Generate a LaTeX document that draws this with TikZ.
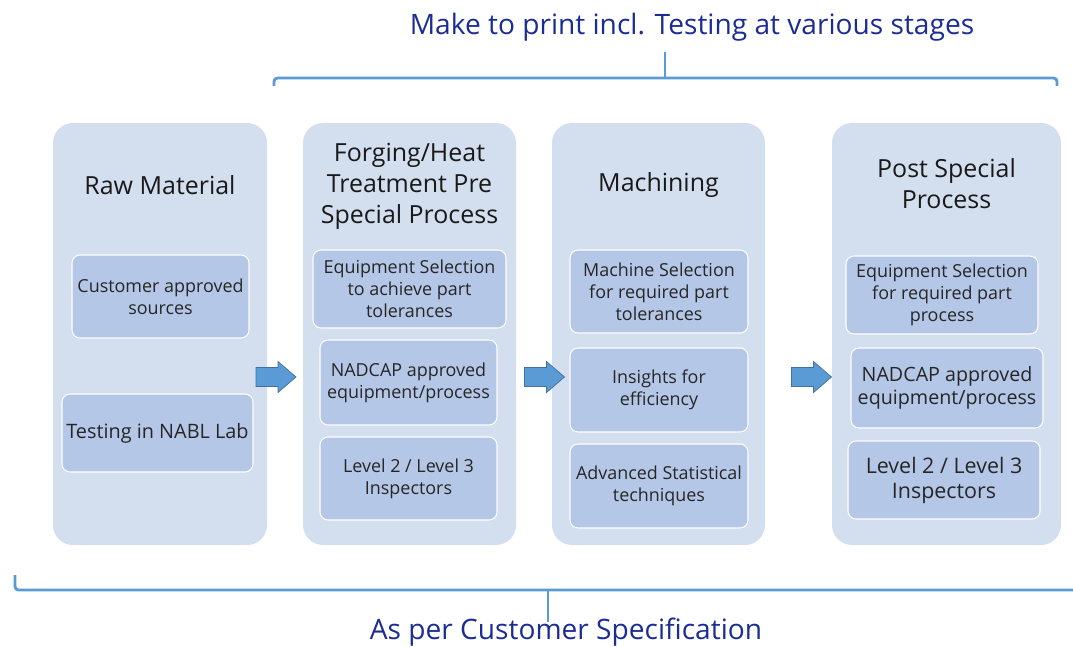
\documentclass[tikz,border=0pt]{standalone}
\usepackage{fontspec}
\setmainfont{Open Sans}
\usepackage{tikz}
\usetikzlibrary{arrows.meta,positioning,calc}
\definecolor{stageFill}{HTML}{D3DEEF}
\definecolor{itemFill}{HTML}{B4C7E7}
\definecolor{accentBlue}{HTML}{5B9BD5}
\definecolor{accentEdge}{HTML}{41719C}
\definecolor{noteNavy}{HTML}{1B2C94}

\begin{document}
\begin{tikzpicture}[
    every node/.style={font=\fontsize{10.2}{12.4}\selectfont,text=black!85},
    stage/.style={rectangle,rounded corners=0.4cm,fill=stageFill,inner sep=0pt},
    stagetitle/.style={align=center,font=\fontsize{14.2}{17.6}\selectfont,text=black!90},
    item/.style={rectangle,rounded corners=0.16cm,draw=white,line width=0.6pt,fill=itemFill,align=center,inner sep=2pt},
    brace/.style={accentBlue,line width=1.6pt,rounded corners=2pt},
    note/.style={font=\fontsize{16}{18}\selectfont,text=noteNavy},
    blockarr/.pic={\draw[fill=accentBlue,draw=accentEdge,line width=0.4pt]
        (-0.40,0.19) -- (0.04,0.19) -- (0.04,0.31) -- (0.40,0) -- (0.04,-0.31) -- (0.04,-0.19) -- (-0.40,-0.19) -- cycle;}
  ]
  \useasboundingbox (0,0) rectangle (21.46,-12.94);
  %% Stages
  \node[stage,minimum width=4.28cm,minimum height=8.44cm] (raw)  at ( 3.20,-6.68) {};
  \node[stage,minimum width=4.26cm,minimum height=8.44cm] (forg) at ( 8.19,-6.68) {};
  \node[stage,minimum width=4.26cm,minimum height=8.44cm] (mach) at (13.17,-6.68) {};
  \node[stage,minimum width=4.58cm,minimum height=8.44cm] (post) at (18.93,-6.68) {};
  %% Stage titles
  \node[stagetitle] (rawT)  at ( 3.20,-3.70) {Raw Material};
  \node[stagetitle] (forgT) at ( 8.19,-3.72) {Forging/Heat\\Treatment Pre\\Special Process};
  \node[stagetitle] (machT) at (13.17,-3.70) {Machining};
  \node[stagetitle] (postT) at (18.93,-3.68) {Post Special\\Process};
  %% Raw material items
  \node[item,minimum width=3.54cm,minimum height=1.66cm] (raw1) at (3.21,-5.93) {Customer approved\\sources};
  \node[item,minimum width=3.82cm,minimum height=1.56cm,font=\fontsize{11.3}{13.5}\selectfont] (raw2) at (3.15,-8.66) {Testing in NABL Lab};
  %% Forging items
  \node[item,minimum width=3.86cm,minimum height=1.56cm] (forg1) at (8.19,-5.78) {Equipment Selection\\to achieve part\\tolerances};
  \node[item,minimum width=3.54cm,minimum height=1.70cm] (forg2) at (8.17,-7.65) {NADCAP approved\\equipment/process};
  \node[item,minimum width=3.54cm,minimum height=1.66cm] (forg3) at (8.17,-9.57) {Level 2 / Level 3\\Inspectors};
  %% Machining items
  \node[item,minimum width=3.56cm,minimum height=1.66cm] (mach1) at (13.18,-5.83) {Machine Selection\\for required part\\tolerances};
  \node[item,minimum width=3.56cm,minimum height=1.68cm] (mach2) at (13.18,-7.80) {Insights for\\efficiency};
  \node[item,minimum width=3.56cm,minimum height=1.68cm] (mach3) at (13.18,-9.72) {Advanced Statistical\\techniques};
  %% Post special process items
  \node[item,minimum width=3.84cm,minimum height=1.56cm] (post1) at (18.84,-5.90) {Equipment Selection\\for required part\\process};
  \node[item,minimum width=3.84cm,minimum height=1.60cm,font=\fontsize{11.2}{13.2}\selectfont] (post2) at (18.94,-7.76) {NADCAP approved\\equipment/process};
  \node[item,minimum width=3.84cm,minimum height=1.56cm,font=\fontsize{12.2}{14.2}\selectfont] (post3) at (18.88,-9.60) {Level 2 / Level 3\\Inspectors};
  %% Flow arrows
  \pic at ( 5.52,-7.54) {blockarr};
  \pic at (10.89,-7.54) {blockarr};
  \pic at (16.23,-7.54) {blockarr};
  %% Top brace
  \coordinate (topL) at ( 5.48,-1.72);
  \coordinate (topR) at (21.14,-1.72);
  \coordinate (topM) at (13.30,-1.56);
  \node[note] (topNote) at (13.84,-0.54) {Make to print incl. Testing at various stages};
  \draw[brace] (topL) |- (topM) -| (topR);
  \draw[brace,rounded corners=0pt] (topM) -- ++(0,0.52);
  %% Bottom brace
  \coordinate (botL) at ( 0.30,-11.50);
  \coordinate (botR) at (21.46,-11.80);
  \coordinate (botM) at (10.96,-11.80);
  \node[note] (botNote) at (11.32,-12.64) {As per Customer Specification};
  \draw[brace] (botL) |- (botR);
  \draw[brace,rounded corners=0pt] (botM) -- ++(0,-0.64);
\end{tikzpicture}
\end{document}
